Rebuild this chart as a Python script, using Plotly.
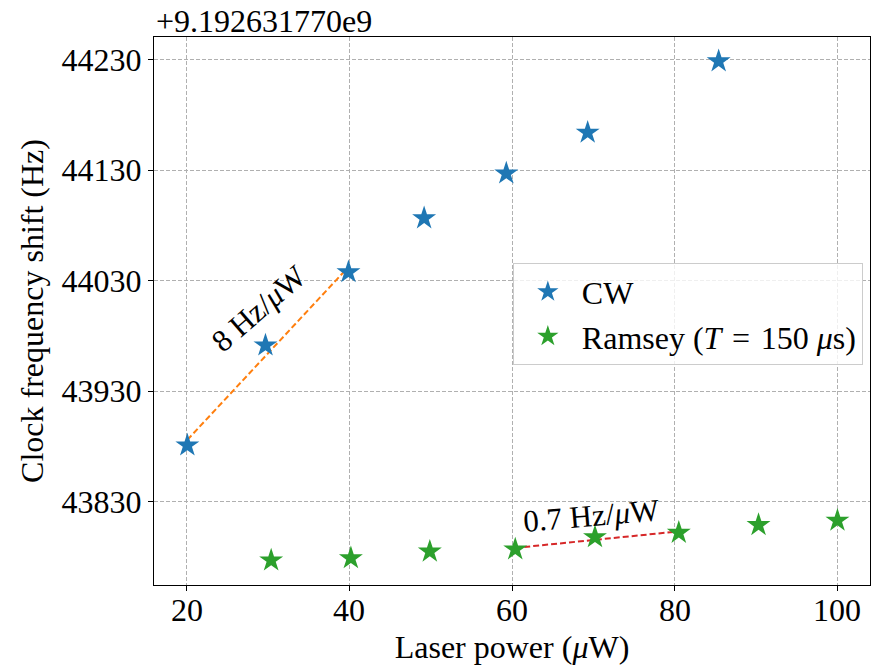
import numpy as np
import plotly.graph_objects as go

# ---- data (offset from 9.192631770e9 Hz) ----
cw_power = [20.1, 29.7, 39.9, 49.2, 59.3, 69.3, 85.4]
cw_shift = [43881.0, 43971.5, 44037.7, 44086.5, 44127.0, 44164.0, 44228.5]

ramsey_power = [30.4, 40.2, 49.9, 60.4, 70.2, 80.5, 90.3, 100.0]
ramsey_shift = [43777.0, 43779.0, 43785.0, 43787.0, 43798.0, 43802.0, 43809.0, 43813.0]

x_ticks = [20, 40, 60, 80, 100]
y_ticks = [43830, 43930, 44030, 44130, 44230]
offset_label = "+9.192631770e9"

FONT = "Liberation Serif"

# linear fits
cw_idx = [i for i, p in enumerate(cw_power) if p <= 41]
cw_coef = np.polyfit([cw_power[i] for i in cw_idx], [cw_shift[i] for i in cw_idx], 1)
r_idx = [i for i, p in enumerate(ramsey_power) if 59 <= p <= 82]
r_coef = np.polyfit([ramsey_power[i] for i in r_idx], [ramsey_shift[i] for i in r_idx], 1)

cw_fit_x = [cw_power[0], cw_power[2]]
cw_fit_y = list(np.polyval(cw_coef, cw_fit_x))
r_fit_x = [ramsey_power[3], ramsey_power[5]]
r_fit_y = list(np.polyval(r_coef, r_fit_x))

fig = go.Figure()

fig.add_trace(go.Scatter(x=cw_fit_x, y=cw_fit_y, mode="lines",
                         line=dict(color="#ff7f0e", width=2, dash="6px,3px"),
                         showlegend=False, hoverinfo="skip"))
fig.add_trace(go.Scatter(x=r_fit_x, y=r_fit_y, mode="lines",
                         line=dict(color="#d62728", width=2, dash="6px,3px"),
                         showlegend=False, hoverinfo="skip"))

fig.add_trace(go.Scatter(x=cw_power, y=cw_shift, mode="markers", name="CW",
                         marker=dict(symbol="star", size=18, color="#1f77b4",
                                     line=dict(width=0))))
fig.add_trace(go.Scatter(x=ramsey_power, y=ramsey_shift, mode="markers",
                         name="Ramsey (<i>T</i>\u2004=\u2004150 <i>μ</i>s)",
                         marker=dict(symbol="star", size=18, color="#2ca02c",
                                     line=dict(width=0))))

axis_common = dict(
    showline=True, linecolor="black", linewidth=1.2, mirror=True,
    ticks="outside", ticklen=5, tickwidth=1, tickcolor="black",
    showgrid=True, gridcolor="#b0b0b0", gridwidth=1, griddash="4px,2px",
    zeroline=False, automargin=False,
    tickfont=dict(family=FONT, size=32, color="black"),
)

fig.update_xaxes(range=[16, 104], tickvals=x_ticks, showticklabels=False,
                 title=dict(text="Laser power (<i>μ</i>W)",
                            font=dict(family=FONT, size=32, color="black"),
                            standoff=45),
                 **axis_common)
fig.update_yaxes(range=[43754.7, 44250.4], tickvals=y_ticks,
                 ticktext=[str(t) for t in y_ticks],
                 title=dict(text="Clock frequency shift (Hz)",
                            font=dict(family=FONT, size=32, color="black"),
                            standoff=8),
                 **axis_common)

# x tick labels (placed closer to the axis, matplotlib-like)
for t in x_ticks:
    fig.add_annotation(text=str(t), x=t, xref="x", y=0, yref="paper",
                       xanchor="center", yanchor="middle", yshift=-25,
                       showarrow=False,
                       font=dict(family=FONT, size=32, color="black"))

fig.add_annotation(text=offset_label, xref="paper", yref="paper", x=0, y=1,
                   xanchor="left", yanchor="bottom", yshift=-4, showarrow=False,
                   font=dict(family=FONT, size=32, color="black"))
fig.add_annotation(text="8 Hz/<i>μ</i>W", x=28.85, y=44005, textangle=-41,
                   showarrow=False, font=dict(family=FONT, size=31, color="black"))
fig.add_annotation(text="0.7 Hz/<i>μ</i>W", x=69.8, y=43818, textangle=-5,
                   showarrow=False, font=dict(family=FONT, size=31, color="black"))

fig.update_layout(
    width=879, height=665,
    margin=dict(l=154, r=9, t=37, b=80, autoexpand=False),
    paper_bgcolor="white", plot_bgcolor="white",
    font=dict(family=FONT, color="black"),
    legend=dict(x=0.99, y=0.587, xanchor="right", yanchor="top",
                bgcolor="rgba(255,255,255,0.8)", bordercolor="#cccccc",
                borderwidth=1, font=dict(family=FONT, size=32, color="black"),
                itemwidth=58, tracegroupgap=0),
)

fig.write_html("out.html")
